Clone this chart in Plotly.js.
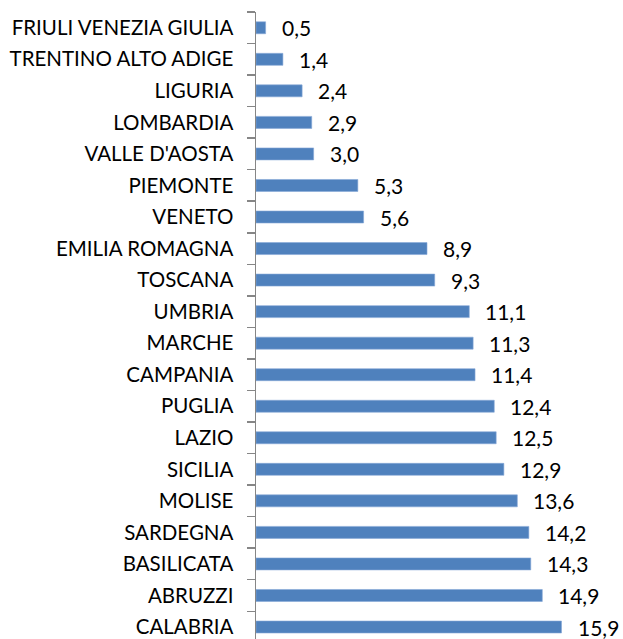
<!DOCTYPE html>
<html>
<head>
<meta charset="utf-8">
<script src="https://cdn.plot.ly/plotly-3.0.1.min.js"></script>
<style>html,body{margin:0;padding:0;background:#fff;}#chart{width:623px;height:639px;}</style>
</head>
<body>
<div id="chart"></div>
<script>
const regions = ["FRIULI VENEZIA GIULIA","TRENTINO ALTO ADIGE","LIGURIA","LOMBARDIA","VALLE D'AOSTA","PIEMONTE","VENETO","EMILIA ROMAGNA","TOSCANA","UMBRIA","MARCHE","CAMPANIA","PUGLIA","LAZIO","SICILIA","MOLISE","SARDEGNA","BASILICATA","ABRUZZI","CALABRIA"];
const values = [0.5,1.4,2.4,2.9,3.0,5.3,5.6,8.9,9.3,11.1,11.3,11.4,12.4,12.5,12.9,13.6,14.2,14.3,14.9,15.9];

const fmt = v => v.toFixed(1).replace('.', ',');

const trace = {
  type: 'bar',
  orientation: 'h',
  x: values,
  y: regions,
  marker: {color: '#4f81bd', line: {color: '#86a8d6', width: 0.6}},
  hoverinfo: 'none'
};

const annotations = regions.map((r, i) => ({
  x: values[i], y: r, xref: 'x', yref: 'y',
  text: fmt(values[i]), showarrow: false,
  xanchor: 'left', yanchor: 'middle', xshift: 14, yshift: 0,
  font: {family: 'Lato, sans-serif', size: 21, color: '#000'}
}));

const layout = {
  width: 623, height: 639,
  margin: {l: 256, r: 0, t: 12, b: 0, pad: 0},
  paper_bgcolor: '#fff', plot_bgcolor: '#fff',
  bargap: 0.62,
  showlegend: false,
  xaxis: {range: [0, 19.1], visible: false, fixedrange: true},
  yaxis: {
    type: 'category',
    range: [19.38, -0.5],
    showgrid: false, zeroline: false,
    showline: true, linecolor: '#868686', linewidth: 1.5,
    ticks: 'outside', tickson: 'boundaries', ticklen: 8, tickcolor: '#868686', tickwidth: 1.5,
    ticklabelstandoff: 17,
    tickfont: {family: 'Lato, sans-serif', size: 20.5, color: '#000'}
  },
  annotations: annotations
};

Plotly.newPlot('chart', [trace], layout, {displayModeBar: false, staticPlot: true});
</script>
</body>
</html>
